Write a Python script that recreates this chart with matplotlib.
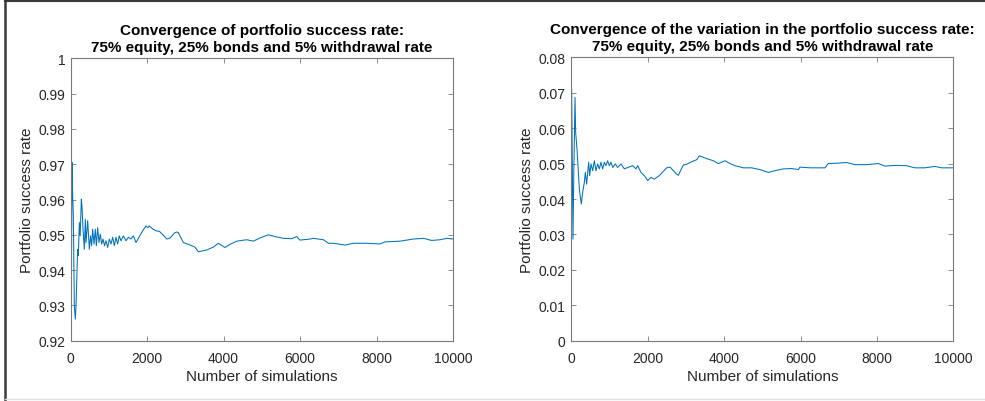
import matplotlib
matplotlib.use("Agg")
import matplotlib.pyplot as plt
from matplotlib.lines import Line2D

plt.rcParams['font.family'] = ['Liberation Sans', 'DejaVu Sans']

# Left chart: running portfolio success rate
sims_left = [1, 12, 34, 52, 69, 95, 121, 139, 160, 182, 200, 226, 248, 278, 295,
             322, 357, 383, 400, 444, 487, 520, 548, 575, 610, 644, 670, 705, 740, 775,
             810, 845, 885, 923, 967, 1010, 1054, 1098, 1141, 1185, 1228, 1270, 1316, 1380, 1447,
             1510, 1577, 1640, 1708, 1795, 1880, 1970, 2020, 2057, 2150, 2240, 2318, 2449, 2510, 2600,
             2711, 2772, 2816, 2946, 3120, 3250, 3340, 3557, 3731, 3862, 4036, 4167, 4342, 4603, 4778,
             4952, 5170, 5344, 5562, 5780, 5911, 6000, 6260, 6350, 6610, 6740, 6870, 7180, 7400, 7740,
             8090, 8220, 8620, 8960, 9230, 9440, 9660, 9840, 10000]
rate_left = [1.0, 0.9228, 0.9705, 0.9610, 0.9554, 0.9299, 0.9261, 0.9299, 0.9380, 0.9459,
             0.9441, 0.9535, 0.9497, 0.9601, 0.9582, 0.9516, 0.9459, 0.9544, 0.9478, 0.9540,
             0.9459, 0.9497, 0.9469, 0.9516, 0.9474, 0.9516, 0.9469, 0.9520, 0.9478, 0.9502,
             0.9474, 0.9488, 0.9469, 0.9483, 0.9464, 0.9488, 0.9474, 0.9493, 0.9469, 0.9493,
             0.9474, 0.9497, 0.9483, 0.9497, 0.9483, 0.9493, 0.9488, 0.9497, 0.9478, 0.9495,
             0.9511, 0.9525, 0.9520, 0.9525, 0.9516, 0.9511, 0.9510, 0.9496, 0.9488, 0.9491,
             0.9505, 0.9508, 0.9506, 0.9478, 0.9471, 0.9465, 0.9452, 0.9457, 0.9465, 0.9476,
             0.9464, 0.9473, 0.9482, 0.9486, 0.9482, 0.9491, 0.9500, 0.9495, 0.9490, 0.9489,
             0.9495, 0.9485, 0.9488, 0.9490, 0.9486, 0.9476, 0.9476, 0.9471, 0.9476, 0.9476,
             0.9474, 0.9480, 0.9482, 0.9488, 0.9490, 0.9484, 0.9486, 0.9490, 0.9488]

# Right chart: running variation in the success rate
sims_right = [1, 9, 44, 62, 97, 114, 149, 175, 210, 262, 297, 341, 367, 402, 454,
              481, 515, 559, 603, 646, 690, 734, 777, 821, 864, 908, 952, 995, 1039, 1083,
              1152, 1214, 1301, 1388, 1475, 1606, 1693, 1737, 1824, 1912, 1999, 2086, 2173, 2304, 2497,
              2584, 2758, 2802, 2933, 3020, 3151, 3282, 3352, 3544, 3718, 3849, 4024, 4155, 4285, 4504,
              4722, 4940, 5158, 5333, 5551, 5769, 5944, 5987, 6249, 6334, 6640, 6727, 6945, 7207, 7425,
              7730, 8036, 8210, 8516, 8777, 8995, 9257, 9519, 9694, 9955, 10000]
var_right = [0.0, 0.0710, 0.0287, 0.0447, 0.0687, 0.0588, 0.0541, 0.0494, 0.0428, 0.0386,
             0.0419, 0.0447, 0.0475, 0.0442, 0.0504, 0.0466, 0.0499, 0.0480, 0.0508, 0.0480,
             0.0499, 0.0485, 0.0504, 0.0485, 0.0504, 0.0494, 0.0508, 0.0494, 0.0504, 0.0489,
             0.0499, 0.0489, 0.0499, 0.0485, 0.0489, 0.0494, 0.0485, 0.0494, 0.0475, 0.0466,
             0.0452, 0.0461, 0.0456, 0.0466, 0.0488, 0.0490, 0.0470, 0.0467, 0.0496, 0.0498,
             0.0505, 0.0511, 0.0522, 0.0514, 0.0508, 0.0500, 0.0508, 0.0500, 0.0494, 0.0488,
             0.0488, 0.0483, 0.0475, 0.0480, 0.0485, 0.0486, 0.0483, 0.0490, 0.0488, 0.0488,
             0.0488, 0.0500, 0.0501, 0.0503, 0.0497, 0.0497, 0.0500, 0.0493, 0.0495, 0.0494,
             0.0488, 0.0488, 0.0492, 0.0488, 0.0488, 0.0488]

xticks = [0, 2000, 4000, 6000, 8000, 10000]
yticks_left = [0.92, 0.93, 0.94, 0.95, 0.96, 0.97, 0.98, 0.99, 1.0]
yticklabels_left = ['0.92', '0.93', '0.94', '0.95', '0.96', '0.97', '0.98', '0.99', '1']
yticks_right = [0, 0.01, 0.02, 0.03, 0.04, 0.05, 0.06, 0.07, 0.08]
yticklabels_right = ['0', '0.01', '0.02', '0.03', '0.04', '0.05', '0.06', '0.07', '0.08']

title_left = "Convergence of portfolio success rate:\n75% equity, 25% bonds and 5% withdrawal rate"
title_right = "Convergence of the variation in the portfolio success rate:\n75% equity, 25% bonds and 5% withdrawal rate"
xlabel = "Number of simulations"
ylabel = "Portfolio success rate"

W, H = 985, 402
fig = plt.figure(figsize=(W / 100, H / 100), dpi=100)
fig.patch.set_facecolor('white')

def px_axes(l, t, r, b):
    return [l / W, 1 - b / H, (r - l) / W, (b - t) / H]

ax1 = fig.add_axes(px_axes(70.7, 59.3, 453.0, 341.7))
ax2 = fig.add_axes(px_axes(571.3, 58.3, 953.3, 341.7))

line_color = '#0072BD'
text_color = '#262626'
axis_color = '#7a7a7a'

setups = [
    (ax1, sims_left, rate_left, (0.92, 1.0), yticks_left, yticklabels_left, title_left),
    (ax2, sims_right, var_right, (0.0, 0.08), yticks_right, yticklabels_right, title_right),
]
for ax, xs, ys, ylim, yt, ytl, title in setups:
    ax.plot(xs, ys, color=line_color, lw=0.75)
    ax.set_xlim(0, 10000)
    ax.set_ylim(*ylim)
    ax.set_xticks(xticks)
    ax.set_xticklabels([str(v) for v in xticks])
    ax.set_yticks(yt)
    ax.set_yticklabels(ytl)
    ax.tick_params(direction='in', length=3.5, width=0.6, color=axis_color,
                   labelcolor=text_color, labelsize=10, top=True, right=True)
    ax.tick_params(axis='x', pad=7.5)
    ax.tick_params(axis='y', pad=4)
    for s in ax.spines.values():
        s.set_color(axis_color)
        s.set_linewidth(0.8)
    ax.set_xlabel(xlabel, fontsize=11, color=text_color, labelpad=3)
    ax.set_ylabel(ylabel, fontsize=11, color=text_color, labelpad=3)
    ax.set_title(title, fontsize=11, fontweight='bold', color='black',
                 linespacing=1.3, pad=5)

# Outer frame of the screenshot
def fline(x0, y0, x1, y1, color, lw):
    fig.add_artist(Line2D([x0 / W, x1 / W], [1 - y0 / H, 1 - y1 / H],
                          color=color, lw=lw, transform=fig.transFigure))

fline(4.5, 2.0, 985, 2.0, '#3a3a3a', 1.5)
fline(4.5, 2.0, 4.5, 402, '#3a3a3a', 1.8)
fline(4.5, 399.5, 985, 399.5, '#e0e0e0', 1.0)

fig.savefig('out.png', dpi=100, facecolor='white')
